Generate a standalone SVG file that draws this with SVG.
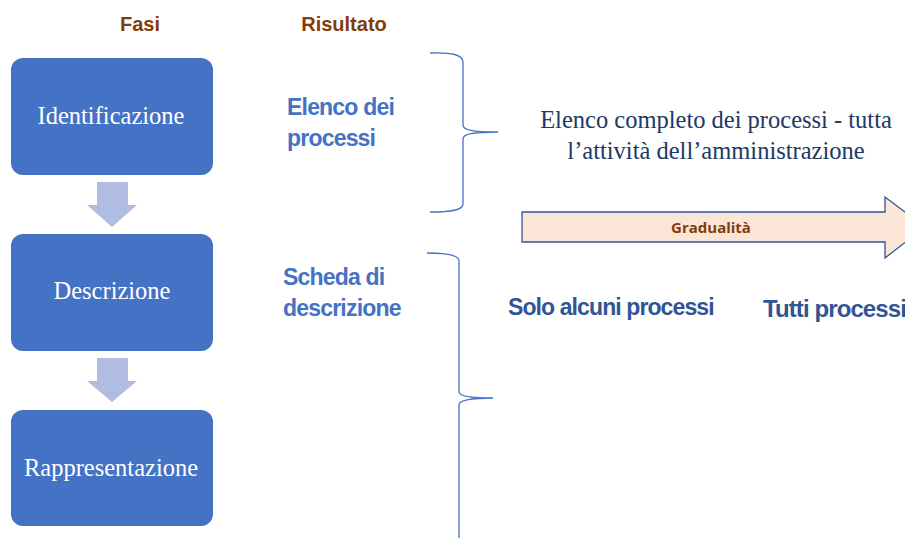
<svg xmlns="http://www.w3.org/2000/svg" width="905" height="538" viewBox="0 0 905 538">
<style>
.box{fill:#4472C4;}
.ntxt{font-family:"Liberation Serif",serif;font-size:24.5px;fill:#FFFFFF;text-anchor:middle;}
.hdr{font-family:"Liberation Sans",Arial,sans-serif;font-size:20px;font-weight:bold;fill:#843C0C;text-anchor:middle;}
.res{font-family:"Liberation Sans",Arial,sans-serif;font-size:23px;font-weight:bold;fill:#4472C4;letter-spacing:-0.8px;}
.dark{font-family:"Liberation Sans",Arial,sans-serif;font-size:23px;font-weight:bold;fill:#2F5597;letter-spacing:-0.9px;}
.serif{font-family:"Liberation Serif",serif;font-size:24.5px;fill:#203864;text-anchor:middle;}
.down{fill:#B0BCE0;}
.brace{fill:none;stroke:#4472C4;stroke-width:1.3;}
</style>
<rect width="905" height="538" fill="#FFFFFF"/>
<text class="hdr" x="140" y="31">Fasi</text>
<text class="hdr" x="344" y="31">Risultato</text>
<g id="node-identificazione">
<rect class="box" x="11" y="58" width="202" height="117" rx="12"/>
<text class="ntxt" x="111" y="124">Identificazione</text>
</g>
<g id="node-descrizione">
<rect class="box" x="11" y="234" width="202" height="117" rx="12"/>
<text class="ntxt" x="112" y="299">Descrizione</text>
</g>
<g id="node-rappresentazione">
<rect class="box" x="11" y="410" width="202" height="116" rx="12"/>
<text class="ntxt" x="111" y="476">Rappresentazione</text>
</g>
<g id="connectors">
<polygon class="down" points="97,182 128,182 128,205 137,205 112,227 87,205 97,205"/>
<polygon class="down" points="97,358 128,358 128,381 137,381 112,402 87,381 97,381"/>
<path class="brace" d="M430,53 C452,52 463,55 463,62 L463,125 C463,130 472,132 498,132 C472,132 463,134 463,139 L463,204 C463,210 452,212 430,212"/>
<path class="brace" d="M427,253 C447,253 459,255 459,261 L459,392 C459,396 470,398 493,398 C470,398 459,400 459,405 L459,540"/>
</g>
<g id="results">
<text class="res" x="287" y="115">Elenco dei</text>
<text class="res" x="287" y="146">processi</text>
<text class="res" x="283" y="285">Scheda di</text>
<text class="res" x="283" y="316">descrizione</text>
</g>
<g id="desc">
<text class="serif" x="716" y="128">Elenco completo dei processi - tutta</text>
<text class="serif" x="716" y="159">l’attività dell’amministrazione</text>
</g>
<g id="gradualita">
<polygon points="522,212 885,212 885,197 925,227 885,258 885,242 522,242" fill="#FBE5D6" stroke="#2F5597" stroke-width="1.3"/>
<text x="711" y="233" font-family="'Open Sans',sans-serif" font-size="15" font-weight="bold" fill="#843C0C" text-anchor="middle">Gradualità</text>
</g>
<text class="dark" x="508" y="315">Solo alcuni processi</text>
<text class="dark" x="763" y="317" style="font-size:24px">Tutti processi</text>
</svg>
